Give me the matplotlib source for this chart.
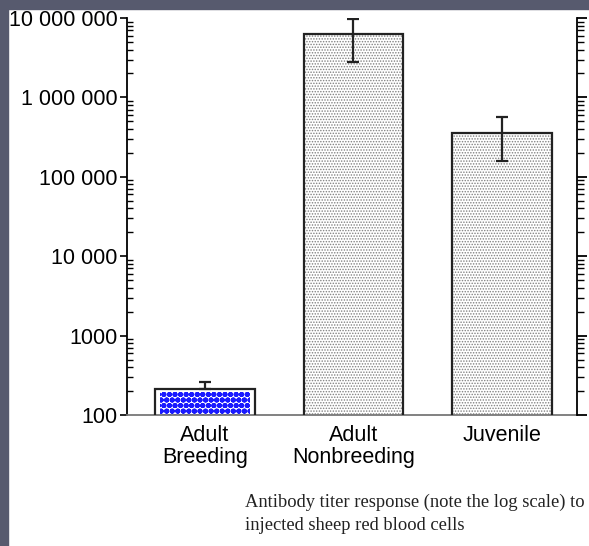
import numpy as np
import matplotlib.pyplot as plt
from matplotlib.patches import Rectangle

# titer values
groups = ["Adult\nBreeding", "Adult\nNonbreeding", "Juvenile"]
titer = [210, 6300000, 360000]
err_low = [0, 3500000, 200000]
err_high = [50, 3300000, 200000]
yticks = [100, 1000, 10000, 100000, 1000000, 10000000]
ytick_labels = ["100", "1000", "10 000", "100 000", "1 000 000", "10 000 000"]
caption = "Antibody titer response (note the log scale) to\ninjected sheep red blood cells"

plt.rcParams['font.family'] = ['Liberation Sans', 'DejaVu Sans']

fig = plt.figure(figsize=(5.89, 5.46), dpi=100)
fig.patch.set_facecolor("white")
# dark slide frame on left and top
fig.patches.append(Rectangle((0, 0), 8 / 589, 1, transform=fig.transFigure,
                             color="#575a6e", zorder=0))
fig.patches.append(Rectangle((0, 1 - 9 / 546), 1, 9 / 546, transform=fig.transFigure,
                             color="#575a6e", zorder=0))

ax = fig.add_axes([127 / 589, 1 - 415 / 546, 450 / 589, 397 / 546])
x = np.arange(len(groups))
w = 0.67

# stippled grey bars
plt.rcParams['hatch.linewidth'] = 0.7
ax.bar(x[1:], titer[1:], width=w, color="white", edgecolor="#808080",
       hatch="......", linewidth=0, zorder=2)
# blue dotted bar
plt.rcParams['hatch.linewidth'] = 2.0
ax.bar(x[:1], [195], width=w * 0.9, color="white", edgecolor="#1a1aff",
       hatch="ooo", linewidth=0, zorder=2)
ax.bar(x, titer, width=w, fill=False, edgecolor="#222222", linewidth=1.6, zorder=3)

ax.errorbar(x, titer, yerr=[err_low, err_high], fmt="none", ecolor="#222222",
            elinewidth=1.6, capsize=4, capthick=1.6, zorder=4)

ax.set_yscale("log")
ax.set_ylim(100, 10000000)
ax.set_xlim(-0.525, 2.505)
ax.set_yticks(yticks)
ax.set_yticklabels(ytick_labels, fontsize=15.5)
ax.set_xticks(x)
ax.set_xticklabels(groups, fontsize=15.5, linespacing=1.05)
ax.tick_params(axis="x", length=0, pad=7)
ax.tick_params(axis="y", which="major", direction="out", length=5, width=1.2, pad=2)
ax.tick_params(axis="y", which="minor", direction="in", length=4, width=1)
for s in ["top", "right"]:
    ax.spines[s].set_visible(False)
ax.spines["left"].set_linewidth(1.3)
ax.spines["bottom"].set_linewidth(1.3)
ax.spines["bottom"].set_color("#777777")

# right-hand axis line with outward ticks
ax2 = ax.twinx()
ax2.set_yscale("log")
ax2.set_ylim(100, 10000000)
ax2.set_yticks(yticks)
ax2.set_yticklabels([])
ax2.tick_params(axis="y", which="major", direction="out", length=7, width=1.3)
ax2.tick_params(axis="y", which="minor", direction="out", length=5, width=1)
for s in ["top", "left", "bottom"]:
    ax2.spines[s].set_visible(False)
ax2.spines["right"].set_linewidth(1.3)

fig.text(245 / 589, 1 - 494 / 546, caption, fontsize=13.3, family="Liberation Serif",
         va="top", ha="left", linespacing=1.45, color="#222222")

fig.savefig("out.png", dpi=100)
